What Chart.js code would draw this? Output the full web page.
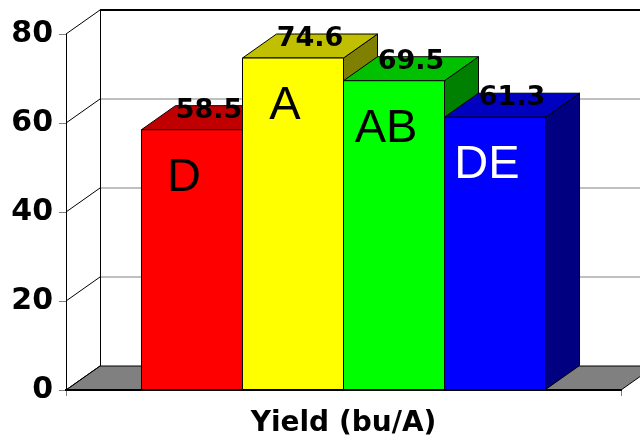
<!DOCTYPE html>
<html>
<head>
<meta charset="utf-8">
<script src="https://cdn.jsdelivr.net/npm/chart.js@4"></script>
<style>
  html, body { margin: 0; padding: 0; background: #fff; }
  #wrap { width: 640px; height: 439px; position: relative; }
</style>
</head>
<body>
<div id="wrap"><canvas id="yieldChart"></canvas></div>
<script>
/* data */
const categories = ['Yield (bu/A)'];
const yields = [58.5, 74.6, 69.5, 61.3];
const letters = ['D', 'A', 'AB', 'DE'];
const yTicks = [0, 20, 40, 60, 80];

/* styling */
const frontColors = ['#ff0000', '#ffff00', '#00ff00', '#0000ff'];
const topColors = ['#c00000', '#c0c000', '#00c000', '#0000c0'];
const sideColors = ['#800000', '#808000', '#008000', '#000080'];
const letterColors = ['#000', '#000', '#000', '#fff'];
const DX = 34, DY = 24;   // depth of the 3d box

const poly = (ctx, pts, fill) => {
  ctx.beginPath();
  ctx.moveTo(pts[0][0], pts[0][1]);
  pts.slice(1).forEach(p => ctx.lineTo(p[0], p[1]));
  ctx.closePath();
  ctx.fillStyle = fill;
  ctx.fill();
  ctx.stroke();
};

// back wall, floor and the diagonal tick connectors
const wallPlugin = {
  id: 'wall',
  beforeDraw(chart) {
    const { ctx, chartArea: a, scales: { y } } = chart;
    ctx.save();
    ctx.lineWidth = 1;
    ctx.strokeStyle = '#000';
    // floor
    const y0 = y.getPixelForValue(0);
    poly(ctx, [[a.left, y0], [a.right, y0], [a.right + DX, y0 - DY], [a.left + DX, y0 - DY]], '#808080');
    // grid lines on the back wall
    yTicks.forEach(v => {
      const py = y.getPixelForValue(v);
      if (v > 0) {
        const top = v === yTicks[yTicks.length - 1];
        ctx.beginPath();
        ctx.strokeStyle = top ? '#000' : '#808080';
        ctx.lineWidth = top ? 2 : 1;
        ctx.moveTo(a.left + DX, py - DY);
        ctx.lineTo(a.right + DX + 20, py - DY);
        ctx.stroke();
      }
      ctx.beginPath();
      ctx.strokeStyle = '#000';
      ctx.lineWidth = 1;
      ctx.moveTo(a.left, py);
      ctx.lineTo(a.left + DX, py - DY);
      ctx.stroke();
    });
    // left edge of the wall
    ctx.beginPath();
    ctx.moveTo(a.left + DX + 0.5, y.getPixelForValue(yTicks[yTicks.length - 1]) - DY);
    ctx.lineTo(a.left + DX + 0.5, y0 - DY);
    ctx.stroke();
    ctx.restore();
  }
};

// 3d boxes, value labels and letters
const boxPlugin = {
  id: 'boxes',
  afterDatasetsDraw(chart) {
    const { ctx } = chart;
    ctx.save();
    ctx.lineWidth = 1;
    ctx.strokeStyle = '#000';
    chart.data.datasets.forEach((ds, i) => {
      const bar = chart.getDatasetMeta(i).data[0];
      const l = bar.x - bar.width / 2, r = bar.x + bar.width / 2;
      const t = bar.y, b = bar.base;
      poly(ctx, [[r, t], [r + DX, t - DY], [r + DX, b - DY], [r, b]], sideColors[i]);
      poly(ctx, [[l, t], [l + DX, t - DY], [r + DX, t - DY], [r, t]], topColors[i]);
      poly(ctx, [[l, t], [r, t], [r, b], [l, b]], frontColors[i]);
    });
    chart.data.datasets.forEach((ds, i) => {
      const bar = chart.getDatasetMeta(i).data[0];
      ctx.textAlign = 'center';
      ctx.textBaseline = 'alphabetic';
      ctx.fillStyle = '#000';
      ctx.font = 'bold 27px "DejaVu Sans"';
      ctx.fillText(yields[i].toFixed(1), bar.x + DX / 2, bar.y - DY / 2);
      ctx.fillStyle = letterColors[i];
      ctx.font = '47px "Liberation Sans"';
      ctx.fillText(letters[i], bar.x - 8, bar.y + 61);
    });
    ctx.restore();
  }
};

new Chart(document.getElementById('yieldChart'), {
  type: 'bar',
  data: {
    labels: categories,
    datasets: yields.map((v, i) => ({
      label: letters[i],
      data: [v],
      backgroundColor: frontColors[i],
      borderColor: '#000',
      borderWidth: 1
    }))
  },
  options: {
    responsive: true,
    maintainAspectRatio: false,
    animation: false,
    layout: { padding: { top: 34, right: 19, bottom: 0, left: 0 } },
    categoryPercentage: 0.728,
    barPercentage: 1,
    plugins: { legend: { display: false }, tooltip: { enabled: false } },
    scales: {
      x: {
        offset: true,
        afterFit: s => { s.height = 49; },
        border: { color: '#000', width: 2 },
        grid: { drawOnChartArea: false, color: '#808080', tickLength: 6, offset: true },
        ticks: { color: '#000', padding: 11, font: { family: 'DejaVu Sans', weight: 'bold', size: 28 } }
      },
      y: {
        min: 0,
        max: 80,
        afterFit: s => { s.width = 66; },
        afterBuildTicks: s => { s.ticks = yTicks.map(v => ({ value: v })); },
        border: { color: '#000', width: 1 },
        grid: { drawOnChartArea: false, color: '#808080', tickLength: 7 },
        ticks: { color: '#000', padding: 6, font: { family: 'DejaVu Sans', weight: 'bold', size: 30 } }
      }
    }
  },
  plugins: [wallPlugin, boxPlugin]
});
</script>
</body>
</html>
